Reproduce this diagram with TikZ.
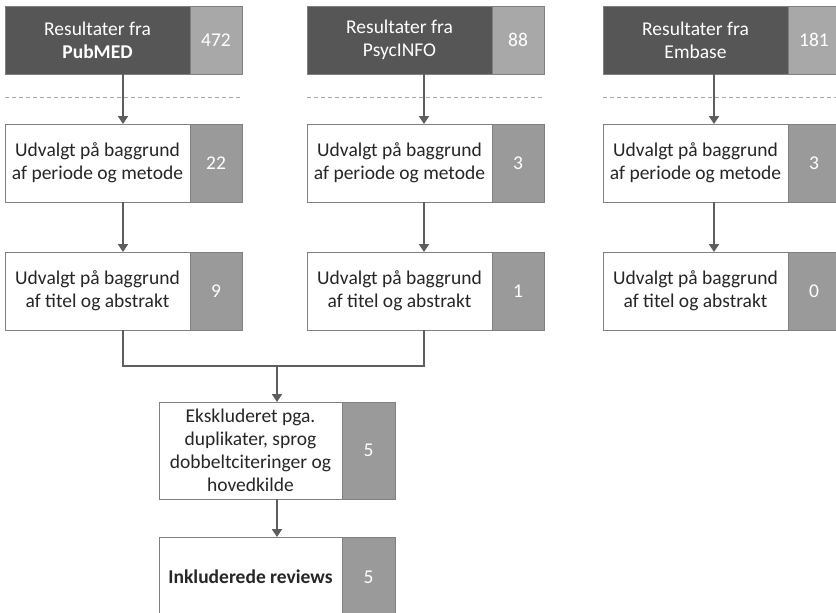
\documentclass[tikz,border=0pt]{standalone}
\usepackage{fontspec}
\setmainfont{Carlito}
\usetikzlibrary{arrows.meta}
\usetikzlibrary{positioning}
\definecolor{darkbox}{HTML}{565656}
\definecolor{numtop}{HTML}{A8A8A8}
\definecolor{numbox}{HTML}{9A9A9A}
\definecolor{edgegray}{HTML}{808080}
\definecolor{linegray}{HTML}{5E5E5E}
\definecolor{textgray}{HTML}{262626}

\begin{document}
\begin{tikzpicture}[x=1pt, y=-1pt, font=\fontsize{19.5}{23}\selectfont,
        box/.style={draw=edgegray, fill=white, text=textgray, align=center, anchor=north west,
            outer sep=0pt, inner sep=2pt, minimum width=185pt, minimum height=78pt},
        head/.style={box, fill=darkbox, text=white, minimum height=68pt},
        num/.style={box, fill=numbox, text=white, minimum width=52pt},
        numhead/.style={num, fill=numtop, minimum height=68pt},
        arr/.style={draw=linegray, line width=1.8pt, -{Triangle[length=8pt,width=10pt]}},
        link/.style={draw=linegray, line width=1.8pt},
        sep/.style={draw=numtop, line width=1pt, dash pattern=on 4pt off 3pt}]
            \useasboundingbox (0,0) rectangle (836,613);
            \coordinate (pub_c) at (123,0);
            \coordinate (psy_c) at (424,0);
            \coordinate (emb_c) at (714,0);
            \coordinate (exc_c) at (277,0);
            % PubMED
            \node[head]    (pub_0)  at (5,6)     {Resultater fra\\\textbf{PubMED}};
            \node[numhead] (pub_0n) at (pub_0.north east) {472};
            \node[box]     (pub_1)  at (5,124)   {Udvalgt på baggrund\\af periode og metode};
            \node[num]     (pub_1n) at (pub_1.north east) {22};
            \node[box]     (pub_2)  at (5,252)   {Udvalgt på baggrund\\af titel og abstrakt};
            \node[num]     (pub_2n) at (pub_2.north east) {9};
            % PsycINFO
            \node[head]    (psy_0)  at (307,6)   {Resultater fra\\PsycINFO};
            \node[numhead] (psy_0n) at (psy_0.north east) {88};
            \node[box]     (psy_1)  at (307,124) {Udvalgt på baggrund\\af periode og metode};
            \node[num]     (psy_1n) at (psy_1.north east) {3};
            \node[box]     (psy_2)  at (307,252) {Udvalgt på baggrund\\af titel og abstrakt};
            \node[num]     (psy_2n) at (psy_2.north east) {1};
            % Embase
            \node[head]    (emb_0)  at (603,6)   {Resultater fra\\Embase};
            \node[numhead] (emb_0n) at (emb_0.north east) {181};
            \node[box]     (emb_1)  at (603,124) {Udvalgt på baggrund\\af periode og metode};
            \node[num]     (emb_1n) at (emb_1.north east) {3};
            \node[box]     (emb_2)  at (603,252) {Udvalgt på baggrund\\af titel og abstrakt};
            \node[num]     (emb_2n) at (emb_2.north east) {0};
            % merged
            \node[box, minimum width=183pt, minimum height=97pt]
                           (exc_0)  at (159,402) {Ekskluderet pga.\\duplikater, sprog\\dobbeltciteringer og\\hovedkilde};
            \node[num, minimum width=53pt, minimum height=97pt]
                           (exc_0n) at (exc_0.north east) {5};
            \node[box, minimum width=183pt, minimum height=80pt]
                           (inc_0)  at (159,537) {\textbf{Inkluderede reviews}};
            \node[num, minimum width=53pt, minimum height=80pt]
                           (inc_0n) at (inc_0.north east) {5};
            \draw[sep] (5,97) -- (242,97);
            \draw[sep] (307,97) -- (543,97);
            \draw[sep] (603,97) -- (836,97);
            \draw[arr] (pub_0.south -| pub_c) -- (pub_1.north -| pub_c);
            \draw[arr] (pub_1.south -| pub_c) -- (pub_2.north -| pub_c);
            \draw[arr] (psy_0.south -| psy_c) -- (psy_1.north -| psy_c);
            \draw[arr] (psy_1.south -| psy_c) -- (psy_2.north -| psy_c);
            \draw[arr] (emb_0.south -| emb_c) -- (emb_1.north -| emb_c);
            \draw[arr] (emb_1.south -| emb_c) -- (emb_2.north -| emb_c);
            \draw[link] (pub_2.south -| pub_c) -- ++(0,36) coordinate (join) -| (psy_2.south -| psy_c);
            \draw[arr] (join -| exc_c) -- (exc_0.north -| exc_c);
            \draw[arr] (exc_0.south -| exc_c) -- (inc_0.north -| exc_c);
        \end{tikzpicture}
\end{document}
